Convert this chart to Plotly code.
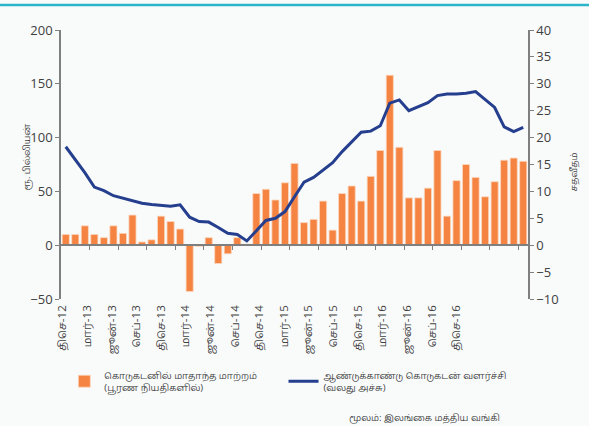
import plotly.graph_objects as go

months = list(range(49))
bar_values = [10, 10, 18, 10, 7, 18, 11, 28, 3, 5, 27, 22, 15, -43, -1, 7,
              -17, -8, 7, 1, 48, 52, 42, 58, 76, 21, 24, 41, 14, 48, 55, 41,
              64, 88, 158, 91, 44, 44, 53, 88, 27, 60, 75, 63, 45, 59, 79, 81, 78]
line_values = [18.3, 15.9, 13.5, 10.8, 10.15, 9.2, 8.7, 8.3, 7.8, 7.55, 7.4, 7.25, 7.5, 5.2, 4.4, 4.3,
               3.3, 2.2, 2.0, 0.8, 2.7, 4.6, 5.0, 6.25, 9.0, 11.7, 12.6, 14.0, 15.35, 17.4, 19.3, 21.0,
               21.2, 22.2, 26.4, 27.0, 25.0, 25.8, 26.5, 27.8, 28.1, 28.1, 28.25, 28.55, 27.1, 25.6, 22.0, 21.1, 21.9]
tick_months = list(range(0, 49, 3))
tick_labels = ["திசெ-12", "மார்-13", "ஜூன்-13", "செப்-13", "திசெ-13", "மார்-14", "ஜூன்-14", "செப்-14",
               "திசெ-14", "மார்-15", "ஜூன்-15", "செப்-15", "திசெ-15", "மார்-16", "ஜூன்-16", "செப்-16", "திசெ-16"]
bar_name = "கொடுகடனில் மாதாந்த மாற்றம்<br>(பூரண நியதிகளில்)"
line_name = "ஆண்டுக்காண்டு கொடுகடன் வளர்ச்சி<br>(வலது அச்சு)"

FONT = "Open Sans, Catamaran, Hind Madurai, sans-serif"
TXT = "#404040"
AX = "#7f7f7f"

fig = go.Figure()
fig.add_trace(go.Bar(x=months, y=bar_values, name=bar_name, legend="legend",
                     marker=dict(color="#F58442", line=dict(color="#fbd9c2", width=0.8))))
fig.add_trace(go.Scatter(x=months, y=line_values, name=line_name, yaxis="y2", mode="lines",
                         legend="legend2", line=dict(color="#253F8E", width=3)))
fig.add_trace(go.Scatter(x=[tick_months[0]], y=[None], xaxis="x2", showlegend=False, hoverinfo="skip"))

leg_common = dict(orientation="h", xanchor="left", y=-0.235, yanchor="top",
                  font=dict(size=9.6, color=TXT), bgcolor="rgba(0,0,0,0)")

fig.update_layout(
    width=589, height=426, autosize=False,
    margin=dict(l=50, r=61, t=30, b=127),
    paper_bgcolor="#f9fbfb", plot_bgcolor="#f9fbfb",
    font=dict(family=FONT, color=TXT, size=12),
    bargap=0.25,
    showlegend=True,
    legend=dict(x=0.03, **leg_common),
    legend2=dict(x=0.4885, **leg_common),
    xaxis=dict(domain=[0.023, 1], range=[-0.5, 48.5], tickvals=[m - 0.5 for m in tick_months] + [48.5],
               showticklabels=False, ticks="outside", ticklen=4, tickcolor=AX,
               showline=True, linecolor=AX, linewidth=1.5, showgrid=False, zeroline=False,
               anchor="free", position=0.2),
    xaxis2=dict(domain=[0, 1], overlaying="x", anchor="free", position=0, range=[-0.2, 56.73],
                tickvals=tick_months, ticktext=tick_labels, tickangle=-90,
                showline=False, showgrid=False, zeroline=False, ticks="",
                tickfont=dict(size=11.5, color=TXT), ticklabelstandoff=3),
    yaxis=dict(range=[-50, 200], dtick=50, ticks="outside", ticklen=4, tickcolor=AX,
               showline=True, linecolor=AX, linewidth=1.5, showgrid=False, zeroline=False,
               tickfont=dict(size=13, color=TXT)),
    yaxis2=dict(range=[-10, 40], dtick=5, overlaying="y", side="right", ticks="outside",
                ticklen=4, tickcolor=AX, showline=True, linecolor=AX, linewidth=1.5,
                showgrid=False, zeroline=False, tickfont=dict(size=13, color=TXT)),
    shapes=[dict(type="line", xref="paper", yref="paper", x0=-0.2, x1=1.2, y0=1.093, y1=1.093,
                 line=dict(color="#2BB5C8", width=2.5))],
    annotations=[
        dict(text="ரூ. பில்லியன்", xref="paper", yref="paper", x=-0.067, y=0.528,
             textangle=-90, showarrow=False, font=dict(size=9.2, color=TXT)),
        dict(text="சதவீதம்", xref="paper", yref="paper", x=1.113, y=0.472,
             textangle=-90, showarrow=False, font=dict(size=9.6, color=TXT)),
        dict(text="மூலம்: இலங்கை மத்திய வங்கி", xref="paper", yref="paper", x=0.946, y=-0.442,
             xanchor="right", yanchor="middle", showarrow=False, font=dict(size=9.6, color=TXT)),
    ],
)

fig.write_html("out.html", config={"displayModeBar": False},
               post_script="document.body.style.margin='0';")
